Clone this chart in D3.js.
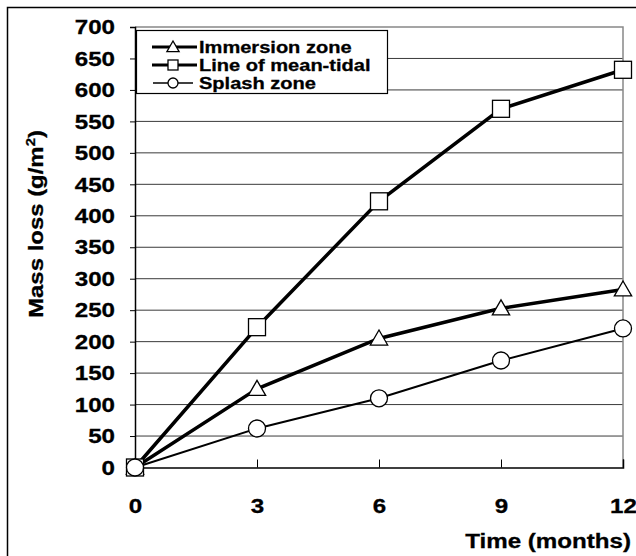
<!DOCTYPE html>
<html>
<head>
<meta charset="utf-8">
<script src="https://cdn.jsdelivr.net/npm/d3@7"></script>
<style>
  body { margin: 0; background: #fff; }
  svg text { font-family: "Liberation Sans", Arial, sans-serif; font-weight: bold; fill: #000; stroke: #000; stroke-width: 0.3px; }
</style>
</head>
<body>
<div id="chart"></div>
<script>
// chart data
const months = [0, 3, 6, 9, 12];
const immersionZone = [0, 125, 205, 253, 283];
const meanTidal = [0, 223, 423, 570, 632];
const splashZone = [0, 62, 110, 170, 221];
const yTicks = [0, 50, 100, 150, 200, 250, 300, 350, 400, 450, 500, 550, 600, 650, 700];
const seriesNames = ['Immersion zone', 'Line of mean-tidal', 'Splash zone'];

const W = 636, H = 556;
const plot = { left: 135, right: 623, top: 27, bottom: 467.5 };
const SX = 1.15; // text in the picture is a bit wider than Arial

const drawMarker = (g, shape, size) => {
    if (shape === 'triangle') {
        g.append('path')
            .attr('d', d3.symbol().type(d3.symbolTriangle).size(size * size * 0.45)())
            .attr('transform', `translate(0,${size / 11})`);
    } else if (shape === 'square') {
        g.append('rect')
            .attr('x', -size / 2).attr('y', -size / 2)
            .attr('width', size).attr('height', size);
    } else {
        g.append('circle').attr('r', size / 2);
    }
    g.selectAll('path,rect,circle')
        .attr('fill', '#fff')
        .attr('stroke', '#000')
        .attr('stroke-width', 1.3);
};

const initChart = () => {
    const svg = d3.select('#chart')
        .append('svg')
        .attr('width', W)
        .attr('height', H);

    // outer frame
    svg.append('rect')
        .attr('x', 7.5).attr('y', 7.5)
        .attr('width', 660).attr('height', 580)
        .attr('fill', 'none')
        .attr('stroke', '#000')
        .attr('stroke-width', 1.5);

    const x = d3.scaleLinear().domain([0, 12]).range([plot.left, plot.right]);
    const y = d3.scaleLinear().domain([0, 700]).range([plot.bottom, plot.top]);

    // gridlines
    svg.append('g')
        .selectAll('line')
        .data(yTicks.filter(v => v > 0 && v < 700))
        .join('line')
        .attr('x1', plot.left).attr('x2', plot.right)
        .attr('y1', d => y(d)).attr('y2', d => y(d))
        .attr('stroke', '#3a3a3a')
        .attr('stroke-width', 1);

    // plot border top/right
    svg.append('path')
        .attr('d', `M${plot.left},${y(700)}H${plot.right}V${plot.bottom}`)
        .attr('fill', 'none')
        .attr('stroke', '#888')
        .attr('stroke-width', 1.5);

    // y axis
    const yAxis = svg.append('g')
        .attr('transform', `translate(${plot.left},0)`)
        .call(d3.axisLeft(y).tickValues(yTicks).tickSize(5).tickPadding(15));
    yAxis.select('.domain').attr('stroke', '#000').attr('stroke-width', 1.5);
    yAxis.selectAll('.tick line').attr('stroke', '#000');
    yAxis.selectAll('.tick text')
        .attr('font-size', 21)
        .attr('x', -20 / SX)
        .attr('transform', `scale(${SX},1)`);

    // x axis
    const xAxis = svg.append('g')
        .attr('transform', `translate(0,${plot.bottom})`)
        .call(d3.axisBottom(x).tickValues(months).tickSize(-8).tickPadding(31));
    xAxis.select('.domain').attr('stroke', '#000').attr('stroke-width', 1.5);
    xAxis.selectAll('.tick line').attr('stroke', '#000').attr('stroke-width', 1);
    xAxis.selectAll('.tick text')
        .attr('font-size', 21)
        .attr('transform', `scale(${SX},1)`);

    // axis titles
    svg.append('text')
        .attr('text-anchor', 'end')
        .attr('font-size', 21)
        .attr('transform', `translate(631,548) scale(${SX},1)`)
        .text('Time (months)');

    const yTitle = svg.append('text')
        .attr('text-anchor', 'middle')
        .attr('font-size', 21)
        .attr('transform', `translate(43,224) rotate(-90) scale(1.14,1)`);
    yTitle.append('tspan').text('Mass loss (g/m');
    yTitle.append('tspan').attr('font-size', 13).attr('dy', -8).text('2');
    yTitle.append('tspan').attr('dy', 8).text(')');

    // series
    const series = [
        { name: seriesNames[0], values: immersionZone, shape: 'triangle', width: 3.5, key: 12 },
        { name: seriesNames[1], values: meanTidal, shape: 'square', width: 3.5, key: 10 },
        { name: seriesNames[2], values: splashZone, shape: 'circle', width: 2, key: 10 }
    ];

    const line = d3.line()
        .x((d, i) => x(months[i]))
        .y(d => y(d));

    series.forEach(s => {
        svg.append('path')
            .datum(s.values)
            .attr('d', line)
            .attr('fill', 'none')
            .attr('stroke', '#000')
            .attr('stroke-width', s.width);

        svg.append('g')
            .selectAll('g')
            .data(s.values)
            .join('g')
            .attr('transform', (d, i) => `translate(${x(months[i])},${y(d)})`)
            .each(function () { drawMarker(d3.select(this), s.shape, 17); });
    });

    // legend
    const legend = svg.append('g');
    legend.append('rect')
        .attr('x', 136.5).attr('y', 30.5)
        .attr('width', 251).attr('height', 63)
        .attr('fill', '#fff')
        .attr('stroke', '#000')
        .attr('stroke-width', 1.2);

    const rows = legend.selectAll('g.row')
        .data(series)
        .join('g')
        .attr('class', 'row')
        .attr('transform', (d, i) => `translate(0,${47 + i * 18})`);

    rows.append('line')
        .attr('x1', d => d.width > 3 ? 152 : 153)
        .attr('x2', d => d.width > 3 ? 197 : 193)
        .attr('stroke', '#000')
        .attr('stroke-width', d => d.width - 0.5);

    rows.append('g')
        .attr('transform', 'translate(173,0)')
        .each(function (d) { drawMarker(d3.select(this), d.shape, d.key); });

    rows.append('text')
        .attr('font-size', 17)
        .attr('dy', '0.36em')
        .attr('transform', 'translate(199,0) scale(1.18,1)')
        .text(d => d.name);
};

document.addEventListener('DOMContentLoaded', initChart);
</script>
</body>
</html>
